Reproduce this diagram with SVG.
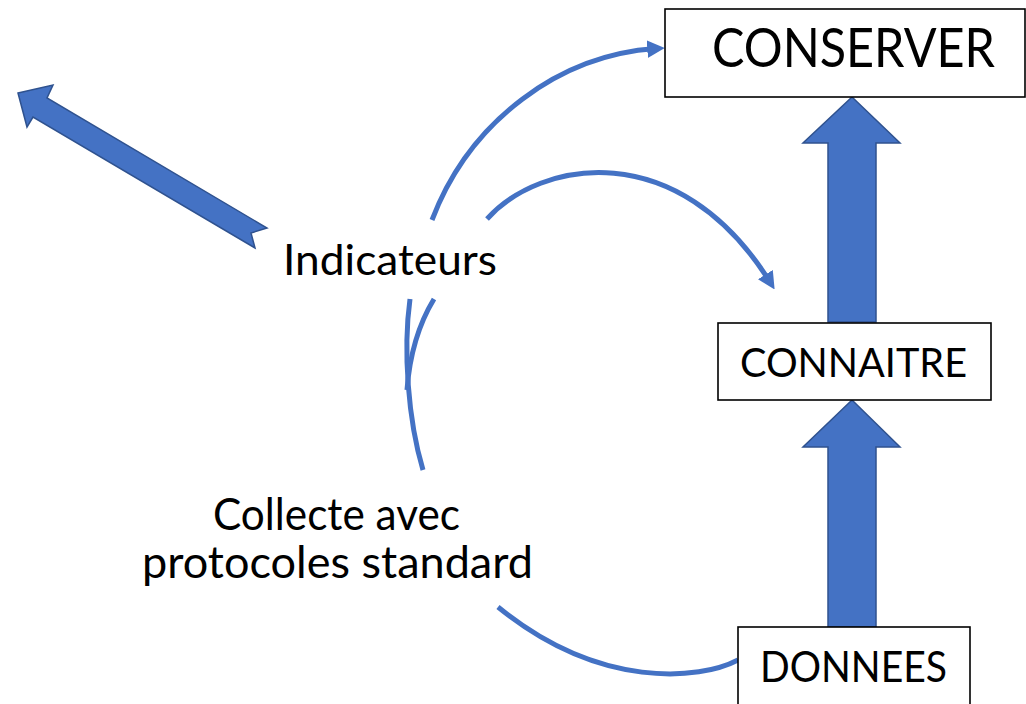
<svg xmlns="http://www.w3.org/2000/svg" width="1026" height="704" viewBox="0 0 1026 704">
<style>
.box{fill:#ffffff;stroke:#000000;stroke-width:1.6}
.blk{fill:#4472C4;stroke:#2F528F;stroke-width:1.5;stroke-linejoin:miter}
.cur{fill:none;stroke:#4472C4;stroke-width:5}
.lbl{font-family:Lato,"Liberation Sans",Arial,sans-serif;fill:#000000;text-anchor:middle}
</style>
<defs>
<marker id="ah" viewBox="0 0 10 10" refX="5" refY="5" markerWidth="3.5" markerHeight="3.5" markerUnits="strokeWidth" orient="auto">
<path d="M0,0 L10,5 L0,10 Z" fill="#4472C4"/>
</marker>
</defs>
<rect width="1026" height="704" fill="#ffffff"/>
<g id="connectors">
<path class="cur" d="M738,660 C700,680 600,690 498,607"/>
<path class="cur" d="M423,470 C408,420 403,350 410,299"/>
<path class="cur" d="M407,390 C410,350 420,322 434,299"/>
<path class="cur" d="M432,220 C470,120 560,55 656,48.6" marker-end="url(#ah)"/>
<path class="cur" d="M487,219 C540,160 678,135 770,282" marker-end="url(#ah)"/>
<polygon class="blk" points="852,97 900,143 876,143 876,322 828,322 828,143 803,143"/>
<polygon class="blk" points="852,400 900,447 876,447 876,627 828,627 828,447 803,447"/>
<polygon class="blk" points="18,93 53,85 47,98 267,228 251,233 255,248 33,117 27,127"/>
</g>
<g id="conserver">
<rect class="box" x="665" y="9" width="360" height="88"/>
<text class="lbl" x="853.5" y="67" font-size="54" textLength="283" lengthAdjust="spacingAndGlyphs">CONSERVER</text>
</g>
<g id="connaitre">
<rect class="box" x="718" y="323" width="273" height="77"/>
<text class="lbl" x="853.5" y="377" font-size="40" textLength="227" lengthAdjust="spacingAndGlyphs">CONNAITRE</text>
</g>
<g id="donnees">
<rect class="box" x="738" y="627" width="232" height="82"/>
<text class="lbl" x="853.5" y="682" font-size="42" textLength="187" lengthAdjust="spacingAndGlyphs">DONNEES</text>
</g>
<g id="indicateurs">
<text class="lbl" x="390" y="275" font-size="42" textLength="214" lengthAdjust="spacingAndGlyphs">Indicateurs</text>
</g>
<g id="collecte">
<text class="lbl" x="336.5" y="530" font-size="44" textLength="247" lengthAdjust="spacingAndGlyphs">Collecte avec</text>
<text class="lbl" x="337.5" y="578" font-size="44" textLength="391" lengthAdjust="spacingAndGlyphs">protocoles standard</text>
</g>
</svg>
